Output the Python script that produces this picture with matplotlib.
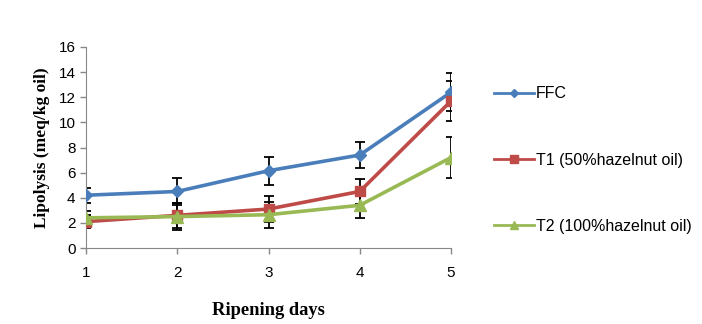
import matplotlib.pyplot as plt
import numpy as np

days = [1, 2, 3, 4, 5]
ffc = [4.2, 4.5, 6.15, 7.4, 12.4]
ffc_err = [0.6, 1.1, 1.1, 1.0, 1.5]
t1 = [2.1, 2.6, 3.1, 4.5, 11.7]
t1_err = [0.5, 1.0, 1.05, 1.0, 1.6]
t2 = [2.4, 2.5, 2.65, 3.4, 7.2]
t2_err = [0.55, 1.05, 1.05, 1.0, 1.6]
labels = ['FFC', 'T1 (50%hazelnut oil)', 'T2 (100%hazelnut oil)']

BLUE = '#4A7EBB'
RED = '#BE4B48'
GREEN = '#98B954'

plt.rcParams['font.family'] = ['Liberation Sans', 'DejaVu Sans']

fig = plt.figure(figsize=(7.02, 3.24), dpi=100)
ax = fig.add_axes([86 / 702, 1 - 248 / 324, (451 - 86) / 702, (248 - 47) / 324])

series = [(ffc, ffc_err, BLUE, 'D', 6), (t1, t1_err, RED, 's', 7.5), (t2, t2_err, GREEN, '^', 8.5)]
for (vals, err, col, mk, ms), lab in zip(series, labels):
    ax.errorbar(days, vals, yerr=err, fmt='none', ecolor='black', elinewidth=1.3,
                capsize=3.5, capthick=1.3, zorder=2)
    ax.plot(days, vals, color=col, marker=mk, markersize=ms, linewidth=2.6,
            label=lab, zorder=3)

ax.set_xlim(1, 5)
ax.set_ylim(0, 16)
ax.set_xticks(days)
ax.set_yticks(np.arange(0, 17, 2))
ax.tick_params(labelsize=11, length=4, color='#888888', width=1)
ax.tick_params(axis='x', pad=9)
for s in ['top', 'right']:
    ax.spines[s].set_visible(False)
for s in ['left', 'bottom']:
    ax.spines[s].set_color('#888888')
ax.spines['bottom'].set_bounds(1, 5)

ax.set_ylabel('Lipolysis (meq/kg oil)', family='Liberation Serif', fontweight='bold', fontsize=12.5, labelpad=6)
ax.set_xlabel('Ripening days', family='Liberation Serif', fontweight='bold', fontsize=13.3, labelpad=16)

leg = ax.legend(loc='upper left', bbox_to_anchor=(488 / 702, 1 - 80 / 324), bbox_transform=fig.transFigure,
                frameon=False, fontsize=11.5, labelspacing=3.2, handlelength=2.5, handletextpad=0.1,
                borderaxespad=0, markerscale=0.7)
for h in leg.legend_handles:
    h.set_linewidth(2)

fig.savefig('out.png', dpi=100)
